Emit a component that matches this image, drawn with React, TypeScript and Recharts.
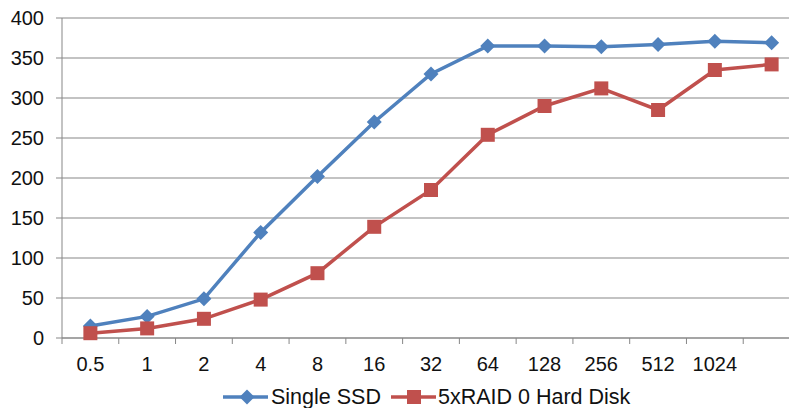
import { CartesianGrid, Legend, Line, LineChart, XAxis, YAxis } from "recharts";

const blockSizes = ["0.5", "1", "2", "4", "8", "16", "32", "64", "128", "256", "512", "1024", ""];
const singleSsd = [15, 27, 49, 132, 202, 270, 330, 365, 365, 364, 367, 371, 369];
const raidHardDisk = [6, 12, 24, 48, 81, 139, 185, 254, 290, 312, 285, 335, 342];
const yTicks = [0, 50, 100, 150, 200, 250, 300, 350, 400];

const data = blockSizes.map((size, i) => ({
  size,
  ssd: singleSsd[i],
  raid: raidHardDisk[i],
}));

const BLUE = "#4F81BD";
const RED = "#C0504D";
const GRID = "#878787";
const FONT = "'Liberation Sans', Arial, sans-serif";

const CHART_W = 810;
const PLOT_LEFT = 62;
const PLOT_RIGHT_MARGIN = 10;
const BAND = (CHART_W - PLOT_LEFT - PLOT_RIGHT_MARGIN) / blockSizes.length;

function Diamond(props: any) {
  const { cx, cy, index } = props;
  if (cx == null || cy == null) return null;
  const r = 7.5;
  return (
    <polygon
      key={`d-${index}`}
      points={`${cx},${cy - r} ${cx + r},${cy} ${cx},${cy + r} ${cx - r},${cy}`}
      fill={BLUE}
    />
  );
}

function Square(props: any) {
  const { cx, cy, index } = props;
  if (cx == null || cy == null) return null;
  const s = 7;
  return <rect key={`s-${index}`} x={cx - s} y={cy - s} width={s * 2} height={s * 2} fill={RED} />;
}

function CategoryTick(props: any) {
  const { x, y, payload } = props;
  const edge = x - BAND / 2;
  return (
    <g>
      <line x1={edge} x2={edge} y1={y - 6} y2={y} stroke={GRID} strokeWidth={1} />
      <text
        x={x}
        y={y + 20}
        textAnchor="middle"
        dominantBaseline="central"
        fontSize={20}
        fontFamily={FONT}
        fill="#111"
      >
        {payload.value}
      </text>
    </g>
  );
}

function LegendContent() {
  return (
    <div
      style={{
        display: "flex",
        alignItems: "center",
        height: 22,
        paddingTop: 6,
        paddingLeft: 223,
        fontFamily: FONT,
        fontSize: 21.5,
        color: "#111",
        whiteSpace: "nowrap",
      }}
    >
      <svg width={45} height={16}>
        <line x1={0} x2={45} y1={8} y2={8} stroke={BLUE} strokeWidth={3.5} />
        <polygon points="24,0.5 31.5,8 24,15.5 16.5,8" fill={BLUE} />
      </svg>
      <span style={{ marginLeft: 3 }}>Single SSD</span>
      <svg width={45} height={16} style={{ marginLeft: 10 }}>
        <line x1={0} x2={45} y1={8} y2={8} stroke={RED} strokeWidth={3.5} />
        <rect x={16} y={1} width={14} height={14} fill={RED} />
      </svg>
      <span style={{ marginLeft: 2 }}>5xRAID 0 Hard Disk</span>
    </div>
  );
}

export default function App() {
  return (
    <div
      style={{
        position: "absolute",
        left: 0,
        top: 0,
        width: 789,
        height: 408,
        overflow: "hidden",
        background: "#fff",
      }}
    >
      <LineChart
        width={CHART_W}
        height={408}
        data={data}
        margin={{ top: 18, right: PLOT_RIGHT_MARGIN, bottom: 0, left: 0 }}
      >
        <CartesianGrid vertical={false} stroke={GRID} strokeWidth={1} />
        <XAxis
          dataKey="size"
          scale="band"
          height={42}
          tickSize={6}
          tickMargin={0}
          interval={0}
          stroke={GRID}
          tickLine={false}
          tick={<CategoryTick />}
        />
        <YAxis
          width={PLOT_LEFT}
          domain={[0, 400]}
          ticks={yTicks}
          interval={0}
          stroke={GRID}
          tickSize={6}
          tickMargin={12}
          tick={{ fill: "#111", fontSize: 20, fontFamily: FONT }}
        />
        <Legend verticalAlign="bottom" height={28} content={<LegendContent />} />
        <Line
          dataKey="ssd"
          name="Single SSD"
          stroke={BLUE}
          strokeWidth={3.5}
          dot={Diamond}
          activeDot={false}
          isAnimationActive={false}
        />
        <Line
          dataKey="raid"
          name="5xRAID 0 Hard Disk"
          stroke={RED}
          strokeWidth={3.5}
          dot={Square}
          activeDot={false}
          isAnimationActive={false}
        />
      </LineChart>
    </div>
  );
}
